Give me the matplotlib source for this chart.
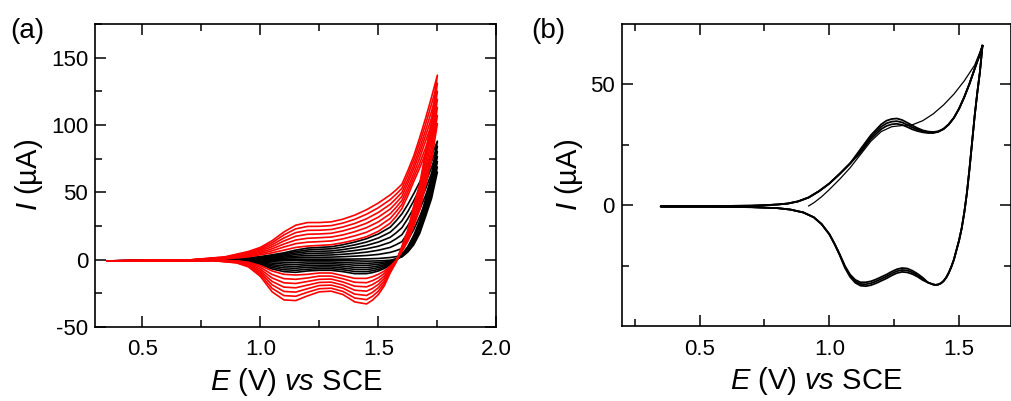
import numpy as np
import matplotlib
matplotlib.use('Agg')
import matplotlib.pyplot as plt
from matplotlib.ticker import MultipleLocator, FormatStrFormatter

plt.rcParams['font.family'] = ['Liberation Sans', 'DejaVu Sans']
plt.rcParams['mathtext.fontset'] = 'custom'
plt.rcParams['mathtext.it'] = 'Liberation Sans:italic'
plt.rcParams['mathtext.rm'] = 'Liberation Sans'
plt.rcParams['axes.unicode_minus'] = False

# ---------------- panel (a): potential grids (V) ----------------
e_fwd_a = [0.35, 0.5, 0.7, 0.85, 0.95, 1.0, 1.05, 1.1, 1.15, 1.2, 1.25, 1.3, 1.35,
           1.4, 1.45, 1.5, 1.55, 1.575, 1.6, 1.625, 1.65, 1.675, 1.7, 1.725, 1.75]
e_rev_a = [1.75, 1.725, 1.7, 1.675, 1.65, 1.625, 1.6, 1.575, 1.55, 1.525, 1.5, 1.475,
           1.45, 1.4, 1.35, 1.3, 1.25, 1.2, 1.15, 1.1, 1.05, 1.0, 0.95, 0.9, 0.8, 0.6, 0.35]

# currents (uA), early cycles (black)
black_fwd = [
    [-1, -0.8, -0.5, -0.3, -0.2, 0, 0.1, 0.2, 0.3, 0.3, 0.3, 0.3, 0.3, 0.4, 0.5, 0.8, 1.5, 2.1, 3, 9, 17, 27, 38, 51, 65],
    [-1, -0.8, -0.5, -0.2, 0, 0.4, 0.7, 1.0, 1.4, 1.7, 1.7, 1.8, 2.1, 2.5, 3, 3.8, 5.3, 6.6, 8.2, 14.5, 22.3, 32, 42.8, 55.3, 68.8],
    [-1, -0.8, -0.45, -0.1, 0.3, 0.7, 1.2, 1.8, 2.5, 3.0, 3.2, 3.4, 3.9, 4.6, 5.5, 6.9, 9, 11, 13.3, 20, 27.7, 37.2, 47.7, 59.7, 72.7],
    [-1, -0.8, -0.45, 0, 0.5, 1.1, 1.8, 2.6, 3.7, 4.4, 4.7, 4.9, 5.7, 6.7, 8, 9.9, 12.8, 15.4, 18.5, 25.2, 33, 42.3, 52.5, 64, 76.5],
    [-1, -0.8, -0.45, 0.1, 0.7, 1.5, 2.4, 3.4, 4.8, 5.8, 6.1, 6.4, 7.4, 8.8, 10.5, 13, 16.5, 19.8, 23.7, 30.5, 38.3, 47.3, 57.3, 68.3, 80.3],
    [-1, -0.8, -0.4, 0.2, 1.0, 1.8, 2.9, 4.2, 5.9, 7.1, 7.6, 8, 9.2, 10.9, 13, 16, 20.3, 24.3, 28.8, 35.7, 43.7, 52.5, 62.2, 72.7, 84.2],
    [-1, -0.8, -0.4, 0.3, 1.2, 2.2, 3.5, 5, 7, 8.5, 9, 9.5, 11, 13, 15.5, 19, 24, 28.7, 34, 41, 49, 57.5, 67, 77, 88],
]
black_rev = [
    [65, 45.2, 32, 19.4, 11, 5.6, 2, 0.5, -0.5, -0.8, -1, -1.1, -1.2, -1, -0.8, -0.6, -0.5, -0.5, -0.6, -0.6, -0.5, -0.4, -0.3, -0.3, -0.4, -0.8, -1],
    [68.8, 48, 34.2, 21, 12.2, 6.3, 2.3, 0.3, -1.1, -1.8, -2.3, -2.6, -2.8, -2.6, -2.2, -1.8, -1.8, -1.8, -2.1, -2, -1.6, -0.9, -0.5, -0.4, -0.4, -0.8, -1],
    [72.7, 50.9, 36.3, 22.5, 13.3, 6.9, 2.7, 0.1, -1.7, -2.8, -3.5, -4, -4.3, -4.2, -3.5, -3.1, -3, -3.2, -3.6, -3.4, -2.7, -1.4, -0.7, -0.5, -0.4, -0.8, -1],
    [76.5, 53.6, 38.5, 24.1, 14.5, 7.6, 3, -0.2, -2.3, -3.8, -4.8, -5.5, -5.9, -5.8, -4.9, -4.3, -4.3, -4.5, -5.1, -4.8, -3.8, -2, -0.9, -0.6, -0.5, -0.8, -1],
    [80.3, 56.5, 40.7, 25.7, 15.7, 8.3, 3.3, -0.4, -2.8, -4.7, -6, -6.9, -7.4, -7.3, -6.3, -5.5, -5.5, -5.8, -6.5, -6.2, -4.8, -2.5, -1.1, -0.6, -0.5, -0.8, -1],
    [84.2, 59.4, 42.8, 27.2, 16.8, 9, 3.7, -0.6, -3.4, -5.7, -7.3, -8.3, -9, -8.9, -7.6, -6.8, -6.8, -7.2, -8, -7.6, -5.9, -3, -1.3, -0.7, -0.5, -0.8, -1],
    [88, 62.2, 45, 28.8, 18, 9.6, 4, -0.8, -4, -6.7, -8.5, -9.7, -10.5, -10.5, -9, -8, -8, -8.5, -9.5, -9, -7, -3.5, -1.5, -0.8, -0.5, -0.8, -1],
]
# later cycles (red)
red_fwd = [
    [-1, -0.8, -0.4, 0.5, 2, 3.5, 5, 7, 9, 10, 10.5, 11, 12.5, 14.5, 17, 21, 27, 32, 38, 47.5, 58, 68, 79, 89.5, 101],
    [-1, -0.8, -0.4, 0.8, 2.7, 4.4, 6.5, 9.3, 11.8, 12.9, 13.3, 13.8, 15.4, 17.6, 20.3, 24.5, 30.5, 35.5, 41, 50.5, 61, 71.5, 83, 94.5, 107],
    [-1, -0.8, -0.4, 1.0, 3.3, 5.3, 8, 11.5, 14.5, 15.8, 16.2, 16.7, 18.3, 20.7, 23.7, 28, 34, 38.7, 44, 53.5, 64, 75.5, 88, 100, 113],
    [-1, -0.8, -0.35, 1.3, 4, 6.3, 9.5, 13.8, 17.3, 18.8, 19, 19.5, 21.3, 23.8, 27, 31.5, 37.5, 42, 47, 56.8, 67.5, 79.3, 92, 105, 119],
    [-1, -0.8, -0.35, 1.5, 4.7, 7.2, 11, 16, 20, 21.7, 21.8, 22.3, 24.2, 26.8, 30.3, 35, 41, 45.3, 50, 59.7, 70.5, 82.8, 96, 110, 125],
    [-1, -0.8, -0.3, 1.8, 5.3, 8.1, 12.5, 18.3, 22.8, 24.6, 24.7, 25.2, 27.1, 29.9, 33.7, 38.5, 44.5, 48.5, 53, 63, 74, 86.7, 100.5, 115.3, 131],
    [-1, -0.8, -0.3, 2, 6, 9, 14, 20.5, 25.5, 27.5, 27.5, 28, 30, 33, 37, 42, 48, 51.7, 56, 66, 77, 90.5, 105, 120.5, 137],
]
red_rev = [
    [101, 73.4, 55, 37, 25, 13.6, 6, -0.6, -5, -8.6, -11, -12.8, -14, -14, -12, -10, -10, -11, -11.5, -11, -8.5, -4.5, -2, -1, -0.6, -0.8, -1],
    [107, 78.2, 59, 40.1, 27.5, 15, 6.7, -0.8, -5.8, -10.4, -13.5, -15.7, -17.2, -16.9, -14.3, -12.3, -12.3, -13.7, -14.7, -14.2, -11.1, -5.8, -2.6, -1.3, -0.6, -0.8, -1],
    [113, 83.2, 63.3, 43.3, 30, 16.4, 7.3, -1.1, -6.7, -12.3, -16, -18.6, -20.3, -19.8, -16.7, -14.5, -14.7, -16.3, -17.8, -17.3, -13.7, -7.2, -3.2, -1.5, -0.7, -0.8, -1],
    [119, 88.1, 67.5, 46.5, 32.5, 17.8, 8, -1.3, -7.5, -14.1, -18.5, -21.5, -23.5, -22.8, -19, -16.8, -17, -19, -21, -20.5, -16.3, -8.5, -3.8, -1.8, -0.7, -0.8, -1],
    [125, 93.1, 71.7, 49.7, 35, 19.2, 8.7, -1.5, -8.3, -16, -21, -24.4, -26.7, -25.7, -21.3, -19, -19.3, -21.7, -24.2, -23.7, -18.8, -9.8, -4.3, -2, -0.7, -0.8, -1],
    [131, 97.9, 75.8, 52.8, 37.5, 20.6, 9.3, -1.8, -9.2, -17.8, -23.5, -27.3, -29.8, -28.6, -23.7, -21.3, -21.7, -24.3, -27.3, -26.8, -21.4, -11.2, -4.9, -2.3, -0.8, -0.8, -1],
    [137, 102.8, 80, 56, 40, 22, 10, -2, -10, -19.6, -26, -30.2, -33, -31.5, -26, -23.5, -24, -27, -30.5, -30, -24, -12.5, -5.5, -2.5, -0.8, -0.8, -1],
]

# ---------------- panel (b) ----------------
# first scan, starting from open circuit
e_first_b = [0.92, 0.94, 0.97, 1.0, 1.04, 1.08, 1.12, 1.16, 1.2, 1.24, 1.28,
             1.32, 1.36, 1.4, 1.44, 1.48, 1.52, 1.56, 1.59]
i_first_b = [-0.3, 1.0, 3.5, 6.5, 10.8, 15.5, 21, 26.5, 30.5, 32.5, 33,
             33.3, 35, 37.8, 41.5, 46, 51.5, 58, 66]

e_rev_b = [1.59, 1.58, 1.57, 1.56, 1.55, 1.54, 1.53, 1.52, 1.51, 1.5, 1.49, 1.48,
           1.47, 1.46, 1.45, 1.44, 1.43, 1.42, 1.41, 1.4, 1.38, 1.36, 1.34, 1.32,
           1.3, 1.28, 1.26, 1.24, 1.22, 1.2, 1.18, 1.16, 1.14, 1.12, 1.1, 1.08,
           1.06, 1.04, 1.02, 1.0, 0.97, 0.94, 0.9, 0.85, 0.8, 0.7, 0.5, 0.35]
e_fwd_b = [0.35, 0.5, 0.6, 0.7, 0.75, 0.8, 0.84, 0.88, 0.92, 0.96, 1.0, 1.04,
           1.08, 1.12, 1.16, 1.2, 1.22, 1.24, 1.26, 1.28, 1.3, 1.32, 1.34, 1.36,
           1.38, 1.4, 1.42, 1.44, 1.46, 1.48, 1.5, 1.52, 1.54, 1.56, 1.58, 1.59]

rev_b = [
    [66, 55, 46.5, 37, 26, 15, 5, -3, -9.5, -14.5, -18.5, -22.5, -25.5, -28, -30, -31.4,
     -32.3, -32.8, -33, -32.8, -32, -30, -28.4, -27.1, -26.2, -26, -26.5, -27.5, -28.7,
     -29.7, -30.7, -31.5, -31.9, -31.9, -30.9, -28.7, -25.1, -20.3, -15.9, -12, -7.8, -5,
     -3, -1.8, -1.2, -0.8, -0.6, -0.5],
    [66, 55, 46.5, 37, 26, 15, 5, -3, -9.5, -14.5, -18.5, -22.5, -25.5, -28, -30, -31.4,
     -32.3, -32.8, -33, -32.8, -32, -30.5, -29, -27.8, -27, -26.8, -27.3, -28.3, -29.5,
     -30.5, -31.5, -32.3, -32.7, -32.6, -31.5, -29.2, -25.5, -20.5, -16, -12, -7.8, -5,
     -3, -1.8, -1.2, -0.8, -0.6, -0.5],
    [66, 55, 46.5, 37, 26, 15, 5, -3, -9.5, -14.5, -18.5, -22.5, -25.5, -28, -30, -31.4,
     -32.3, -32.8, -33, -32.8, -32, -31, -29.6, -28.5, -27.8, -27.6, -28.1, -29.1, -30.3,
     -31.3, -32.3, -33.1, -33.5, -33.3, -32.1, -29.7, -25.9, -20.7, -16.1, -12, -7.8, -5,
     -3, -1.8, -1.2, -0.8, -0.6, -0.5],
]
fwd_b = [
    [-0.5, -0.4, -0.3, -0.2, 0, 0.3, 0.7, 1.6, 3.2, 5.8, 9, 13, 17.3, 23.2, 29, 33.5,
     35, 35.7, 35.9, 35.3, 34.2, 33, 31.9, 31, 30.5, 30.3, 30.6, 31.6, 33.5, 36.2,
     40, 44.8, 50.3, 56.5, 62.5, 66],
    [-0.5, -0.4, -0.3, -0.2, 0, 0.3, 0.7, 1.6, 3.2, 5.8, 9, 13, 17.3, 22.5, 28.2, 32.5,
     33.9, 34.6, 34.8, 34.3, 33.3, 32.2, 31.3, 30.6, 30.2, 30.1, 30.5, 31.6, 33.5, 36.2,
     40, 44.8, 50.3, 56.5, 62.5, 66],
    [-0.5, -0.4, -0.3, -0.2, 0, 0.3, 0.7, 1.6, 3.2, 5.8, 9, 13, 17.3, 21.8, 27.4, 31.5,
     32.8, 33.5, 33.7, 33.3, 32.4, 31.4, 30.7, 30.2, 29.9, 29.9, 30.4, 31.5, 33.4, 36.2,
     40, 44.8, 50.3, 56.5, 62.5, 66],
]


def style_axes(ax):
    ax.tick_params(which='both', direction='in', top=True, right=True,
                   labelsize=16, width=1.1)
    ax.tick_params(which='major', length=8)
    ax.tick_params(which='minor', length=5)
    ax.tick_params(axis='x', which='major', pad=9)
    ax.tick_params(axis='y', which='major', pad=5)
    for sp in ax.spines.values():
        sp.set_linewidth(1.2)
    ax.set_xlabel(r'$E$ (V) $vs$ SCE', fontsize=21, labelpad=4)
    ax.set_ylabel(r'$I$ (µA)', fontsize=21, labelpad=4)


fig = plt.figure(figsize=(10.11, 4.01), dpi=100)
ax1 = fig.add_axes([0.094, 0.185, 0.397, 0.755])
ax2 = fig.add_axes([0.615, 0.187, 0.385, 0.753])

# (a)
for f, r in zip(black_fwd, black_rev):
    ax1.plot(e_fwd_a + e_rev_a, f + r, color='black', lw=1.2)
for f, r in zip(red_fwd, red_rev):
    ax1.plot(e_fwd_a + e_rev_a, f + r, color='red', lw=1.2)
ax1.set_xlim(0.3, 2.0)
ax1.set_ylim(-50, 175)
ax1.xaxis.set_major_locator(MultipleLocator(0.5))
ax1.xaxis.set_minor_locator(MultipleLocator(0.25))
ax1.yaxis.set_major_locator(MultipleLocator(50))
ax1.yaxis.set_minor_locator(MultipleLocator(25))
ax1.xaxis.set_major_formatter(FormatStrFormatter('%.1f'))
style_axes(ax1)

# (b)
ax2.plot(e_first_b, i_first_b, color='black', lw=0.9)
for r, f in zip(rev_b, fwd_b):
    ax2.plot(e_rev_b + e_fwd_b, r + f, color='black', lw=1.3)
ax2.set_xlim(0.2, 1.7)
ax2.set_ylim(-50, 75)
ax2.set_xticks([0.5, 1.0, 1.5])
ax2.set_xticks([0.25, 0.75, 1.25], minor=True)
ax2.set_yticks([0, 50])
ax2.set_yticks([-25, 25], minor=True)
ax2.xaxis.set_major_formatter(FormatStrFormatter('%.1f'))
style_axes(ax2)

fig.text(0.010, 0.955, '(a)', fontsize=20, va='top', ha='left')
fig.text(0.525, 0.955, '(b)', fontsize=20, va='top', ha='left')

fig.savefig('out.png', dpi=100)
